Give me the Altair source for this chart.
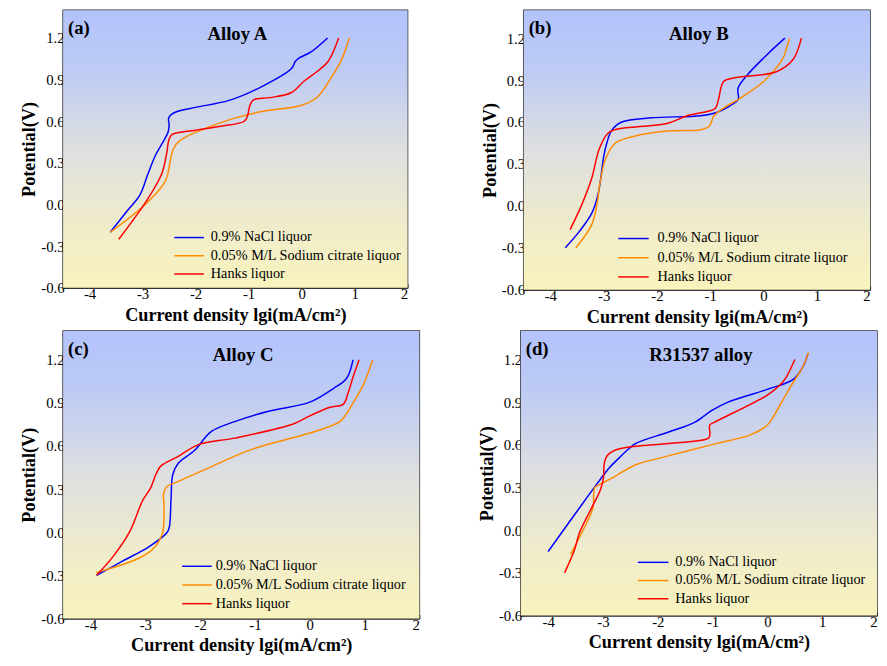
import altair as alt
import pandas as pd

FONT = "Liberation Serif"
SERIES = ["0.9% NaCl liquor", "0.05% M/L Sodium citrate liquor", "Hanks liquor"]
COLORS = ["#0000ff", "#ff8c00", "#ff0000"]
X_TICKS = [-4, -3, -2, -1, 0, 1, 2]
Y_TICKS = [-0.6, -0.3, 0.0, 0.3, 0.6, 0.9, 1.2]
PANEL_LABELS = ["(a)", "(b)", "(c)", "(d)"]
PANEL_TITLES = ["Alloy A", "Alloy B", "Alloy C", "R31537 alloy"]
X_TITLE = "Current density lgi(mA/cm²)"
Y_TITLE = "Potential(V)"

# ---- Panel (a) Alloy A ----
A_NACL_X = [-3.61, -3.3, -3.05, -2.9, -2.75, -2.6, -2.52, -2.50, -2.51, -2.47, -2.35, -2.0, -1.37, -0.75, -0.19, -0.12, -0.05, 0.18, 0.49]
A_NACL_Y = [-0.20, -0.05, 0.07, 0.22, 0.36, 0.46, 0.52, 0.57, 0.62, 0.645, 0.67, 0.70, 0.75, 0.85, 0.98, 1.03, 1.055, 1.10, 1.20]
A_CIT_X = [-3.61, -2.95, -2.6, -2.53, -2.49, -2.42, -2.3, -2.0, -1.37, -0.75, 0.0, 0.3, 0.6, 0.75, 0.9]
A_CIT_Y = [-0.20, 0.0, 0.15, 0.21, 0.29, 0.40, 0.46, 0.52, 0.61, 0.67, 0.715, 0.775, 0.94, 1.04, 1.20]
A_HANKS_X = [-3.45, -2.92, -2.64, -2.55, -2.50, -2.44, -2.0, -1.5, -1.08, -1.02, -0.97, -0.90, -0.6, -0.2, 0.05, 0.3, 0.5, 0.7]
A_HANKS_Y = [-0.25, 0.03, 0.22, 0.36, 0.47, 0.505, 0.535, 0.565, 0.60, 0.64, 0.72, 0.755, 0.77, 0.805, 0.89, 0.96, 1.03, 1.20]

# ---- Panel (b) Alloy B ----
B_NACL_X = [-3.72, -3.47, -3.22, -3.10, -3.0, -2.94, -2.85, -2.66, -2.1, -1.18, -0.87, -0.50, -0.47, -0.48, -0.32, 0.06, 0.40]
B_NACL_Y = [-0.30, -0.19, -0.05, 0.09, 0.35, 0.45, 0.54, 0.60, 0.63, 0.645, 0.67, 0.75, 0.77, 0.84, 0.93, 1.08, 1.20]
B_CIT_X = [-3.52, -3.23, -3.13, -3.07, -2.97, -2.78, -2.41, -1.80, -1.18, -1.02, -0.93, -0.75, -0.44, 0.0, 0.37, 0.43, 0.49]
B_CIT_Y = [-0.30, -0.14, 0.0, 0.16, 0.33, 0.45, 0.50, 0.535, 0.545, 0.57, 0.645, 0.70, 0.77, 0.89, 1.06, 1.13, 1.20]
B_HANKS_X = [-3.63, -3.42, -3.23, -3.08, -2.92, -2.74, -1.81, -1.43, -0.93, -0.88, -0.84, -0.75, -0.56, 0.24, 0.55, 0.71]
B_HANKS_Y = [-0.17, 0.0, 0.19, 0.41, 0.52, 0.55, 0.59, 0.645, 0.69, 0.715, 0.77, 0.89, 0.915, 0.96, 1.045, 1.20]

# ---- Panel (c) Alloy C ----
C_NACL_X = [-3.89, -3.41, -2.93, -2.60, -2.56, -2.53, -2.50, -2.40, -2.10, -1.80, -1.37, -0.77, 0.0, 0.43, 0.67, 0.79]
C_NACL_Y = [-0.30, -0.20, -0.10, 0.0, 0.04, 0.24, 0.40, 0.48, 0.57, 0.70, 0.77, 0.84, 0.905, 1.0, 1.07, 1.20]
C_CIT_X = [-3.89, -3.17, -2.87, -2.69, -2.66, -2.67, -2.60, -2.45, -1.98, -1.07, 0.0, 0.55, 0.67, 0.79, 0.97, 1.15]
C_CIT_Y = [-0.28, -0.19, -0.12, -0.01, 0.20, 0.26, 0.32, 0.345, 0.425, 0.575, 0.69, 0.77, 0.825, 0.90, 1.02, 1.20]
C_HANKS_X = [-3.89, -3.59, -3.29, -3.05, -2.90, -2.81, -2.72, -2.39, -2.03, -1.37, -0.29, 0.0, 0.37, 0.61, 0.70, 0.79, 0.90]
C_HANKS_Y = [-0.30, -0.17, 0.0, 0.22, 0.31, 0.40, 0.46, 0.53, 0.61, 0.655, 0.755, 0.81, 0.87, 0.89, 0.97, 1.08, 1.20]

# ---- Panel (d) R31537 alloy ----
D_NACL_X = [-4.0, -3.46, -3.12, -2.88, -2.70, -2.55, -2.40, -1.80, -1.32, -1.02, -0.72, 0.0, 0.47, 0.65, 0.74]
D_NACL_Y = [-0.15, 0.14, 0.32, 0.44, 0.51, 0.565, 0.61, 0.69, 0.76, 0.84, 0.90, 0.99, 1.06, 1.15, 1.24]
D_CIT_X = [-3.59, -3.30, -3.18, -3.17, -3.15, -3.06, -2.82, -2.40, -1.93, -0.92, -0.31, 0.0, 0.23, 0.47, 0.65, 0.75]
D_CIT_Y = [-0.17, 0.05, 0.16, 0.25, 0.30, 0.32, 0.37, 0.46, 0.51, 0.61, 0.67, 0.74, 0.88, 1.04, 1.15, 1.25]
D_HANKS_X = [-3.70, -3.52, -3.43, -3.23, -3.05, -2.99, -2.98, -2.93, -2.76, -2.40, -1.80, -1.08, -1.05, -1.05, -0.96, 0.0, 0.23, 0.35, 0.50]
D_HANKS_Y = [-0.30, -0.14, -0.02, 0.14, 0.28, 0.37, 0.46, 0.52, 0.565, 0.59, 0.61, 0.645, 0.67, 0.74, 0.76, 0.95, 1.02, 1.08, 1.20]

PANEL_DATA = [
    [(A_NACL_X, A_NACL_Y), (A_CIT_X, A_CIT_Y), (A_HANKS_X, A_HANKS_Y)],
    [(B_NACL_X, B_NACL_Y), (B_CIT_X, B_CIT_Y), (B_HANKS_X, B_HANKS_Y)],
    [(C_NACL_X, C_NACL_Y), (C_CIT_X, C_CIT_Y), (C_HANKS_X, C_HANKS_Y)],
    [(D_NACL_X, D_NACL_Y), (D_CIT_X, D_CIT_Y), (D_HANKS_X, D_HANKS_Y)],
]

# layout (pixels): width, height, legend line x1, x2, text x, first row y, row step,
# and an invisible left extent that sets the left margin of the panels
LAYOUT = [
    dict(w=350, h=282, lx1=113, lx2=143, tx=150, ly=231, step=18.5, extra=-55),
    dict(w=352, h=284, lx1=96, lx2=127, tx=136, ly=232, step=19.5, extra=None),
    dict(w=362, h=292, lx1=121, lx2=151, tx=155, ly=239, step=19.0, extra=None),
    dict(w=362, h=289, lx1=119, lx2=150, tx=157, ly=235, step=18.5, extra=None),
]

GRADIENT = alt.LinearGradient(
    gradient="linear",
    stops=[
        alt.GradientStop(color="#b3c3fc", offset=0),
        alt.GradientStop(color="#bccaf5", offset=0.2),
        alt.GradientStop(color="#dedfe0", offset=0.5),
        alt.GradientStop(color="#f1edc9", offset=0.8),
        alt.GradientStop(color="#f9f3bd", offset=1),
    ],
    x1=0, x2=0, y1=0, y2=1,
)

ONE = pd.DataFrame({"k": [0]})

X_LABEL = "datum.value < 0 ? '-' + format(-datum.value, 'd') : format(datum.value, 'd')"
Y_LABEL = "datum.value < 0 ? '-' + format(-datum.value, '.1f') : format(datum.value, '.1f')"


def panel(i):
    lay = LAYOUT[i]
    w, h = lay["w"], lay["h"]
    rows = []
    for s, (xs, ys) in enumerate(PANEL_DATA[i]):
        for j, (xv, yv) in enumerate(zip(xs, ys)):
            rows.append({"series": SERIES[s], "x": xv, "y": yv, "i": j})
    df = pd.DataFrame(rows)

    bg = alt.Chart(ONE).mark_rect(color=GRADIENT).encode(
        x=alt.value(0), x2=alt.value(w), y=alt.value(0), y2=alt.value(h)
    )
    lines = alt.Chart(df).mark_line(strokeWidth=1.5, interpolate="catmull-rom").encode(
        x=alt.X("x:Q", scale=alt.Scale(domain=[-4.5, 2], nice=False),
                axis=alt.Axis(values=X_TICKS, title=X_TITLE, labelExpr=X_LABEL)),
        y=alt.Y("y:Q", scale=alt.Scale(domain=[-0.6, 1.4], nice=False),
                axis=alt.Axis(values=Y_TICKS, title=Y_TITLE, labelExpr=Y_LABEL,
                              titlePadding=2)),
        color=alt.Color("series:N", scale=alt.Scale(domain=SERIES, range=COLORS), legend=None),
        detail="series:N",
        order="i:Q",
    )
    lab = alt.Chart(ONE).mark_text(
        text=PANEL_LABELS[i], font=FONT, fontSize=19, fontWeight="bold",
        align="left", baseline="middle", color="black"
    ).encode(x=alt.value(5), y=alt.value(18))
    ttl = alt.Chart(ONE).mark_text(
        text=PANEL_TITLES[i], font=FONT, fontSize=19, fontWeight="bold",
        align="center", baseline="middle", color="black"
    ).encode(x=alt.value(w / 2 + 2), y=alt.value(24))
    layers = [bg, lines, lab, ttl]
    for s, name in enumerate(SERIES):
        yy = lay["ly"] + s * lay["step"]
        layers.append(alt.Chart(ONE).mark_rule(color=COLORS[s], strokeWidth=1.5).encode(
            x=alt.value(lay["lx1"]), x2=alt.value(lay["lx2"]), y=alt.value(yy)))
        layers.append(alt.Chart(ONE).mark_text(
            text=name, font=FONT, fontSize=14.5, align="left", baseline="middle", color="black"
        ).encode(x=alt.value(lay["tx"]), y=alt.value(yy)))
    if lay["extra"] is not None:
        layers.append(alt.Chart(ONE).mark_rule(strokeOpacity=0, strokeWidth=1).encode(
            x=alt.value(lay["extra"]), x2=alt.value(lay["extra"] + 1), y=alt.value(h / 2)))
    return alt.layer(*layers).properties(width=w, height=h)


row1 = alt.hconcat(panel(0), panel(1), spacing=71)
row2 = alt.hconcat(panel(2), panel(3), spacing=56)
chart = alt.vconcat(row1, row2, spacing=3).properties(
    padding={"left": 0, "top": -4, "right": 0, "bottom": 0}
).configure_view(
    stroke="#333333", strokeWidth=1.5
).configure_axis(
    labelFont=FONT, labelFontSize=15, labelColor="black",
    titleFont=FONT, titleFontSize=18.5, titleFontWeight="bold", titleColor="black",
    tickSize={"expr": "-4"}, tickColor="#222222", tickWidth=1,
    domainColor="#333333", domainWidth=1.5, grid=False,
    labelPadding=3,
)

chart.save("out.html", embed_options={"renderer": "svg", "actions": False})
